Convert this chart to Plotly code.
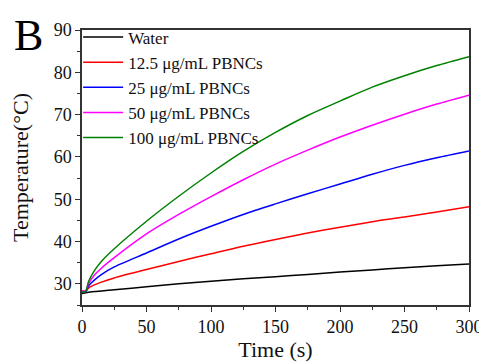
import plotly.graph_objects as go

time_s = [0, 3, 5, 10, 15, 25, 50, 75, 100, 125, 150, 175, 200, 225, 250, 275, 300]
water = [27.7, 27.9, 28.0, 28.2, 28.3, 28.6, 29.3, 30.0, 30.6, 31.2, 31.7, 32.2, 32.8, 33.3, 33.8, 34.3, 34.7]
pb12 = [28.3, 28.3, 29.0, 29.8, 30.4, 31.4, 33.4, 35.3, 37.1, 38.9, 40.5, 42.0, 43.4, 44.7, 45.8, 47.0, 48.2]
pb25 = [28.0, 28.2, 29.5, 31.0, 32.2, 34.0, 37.3, 40.6, 43.6, 46.4, 48.9, 51.3, 53.6, 55.9, 58.0, 59.8, 61.4]
pb50 = [28.3, 28.4, 30.0, 32.2, 33.7, 36.2, 41.8, 46.4, 50.6, 54.6, 58.3, 61.6, 64.7, 67.5, 70.1, 72.5, 74.6]
pb100 = [28.0, 28.3, 30.5, 33.3, 35.3, 38.3, 44.8, 50.7, 56.2, 61.3, 65.8, 69.8, 73.2, 76.5, 79.2, 81.6, 83.7]

names = ["Water", "12.5 μg/mL PBNCs", "25 μg/mL PBNCs", "50 μg/mL PBNCs", "100 μg/mL PBNCs"]
series = [water, pb12, pb25, pb50, pb100]
colors = ["#000000", "#ff0000", "#0000ff", "#ff00ff", "#008000"]

fig = go.Figure()
for n, s, c in zip(names, series, colors):
    fig.add_trace(go.Scatter(x=time_s, y=s, name=n, mode="lines",
                             line=dict(color=c, width=1.5, shape="spline", smoothing=0.8)))

font = "Liberation Serif"
axis_common = dict(showline=True, linecolor="#333", linewidth=1.5, mirror=True,
                   ticks="outside", ticklen=5, tickwidth=1.2, tickcolor="#333",
                   showgrid=False, zeroline=False, automargin=False,
                   tickfont=dict(family=font, size=18, color="#111"))
fig.update_xaxes(range=[0, 300], dtick=50, tick0=0,
                 minor=dict(dtick=25, ticks="outside", ticklen=3, tickcolor="#333"),
                 title=dict(text="Time (s)", font=dict(family=font, size=22, color="#111"), standoff=4),
                 **axis_common)
fig.update_yaxes(range=[25, 90], dtick=10, tick0=30,
                 minor=dict(dtick=5, ticks="outside", ticklen=3, tickcolor="#333"),
                 title=dict(text="Temperature(°C)", font=dict(family=font, size=22, color="#111"), standoff=22),
                 **axis_common)
# page body has an 8px default margin, so the figure is sized to fit the window
fig.update_layout(
    width=479, height=356,
    margin=dict(l=74, r=18, t=12, b=59),
    plot_bgcolor="white", paper_bgcolor="white",
    showlegend=True,
    legend=dict(x=-0.01, y=1.038, xanchor="left", yanchor="top",
                bgcolor="rgba(0,0,0,0)", font=dict(family=font, size=17, color="#111"),
                tracegroupgap=0, itemwidth=40),
    annotations=[dict(text="B", x=-0.18, y=1.075, xref="paper", yref="paper",
                      xanchor="left", yanchor="top", showarrow=False,
                      font=dict(family=font, size=44, color="#000"))],
)
fig.write_html("out.html")
